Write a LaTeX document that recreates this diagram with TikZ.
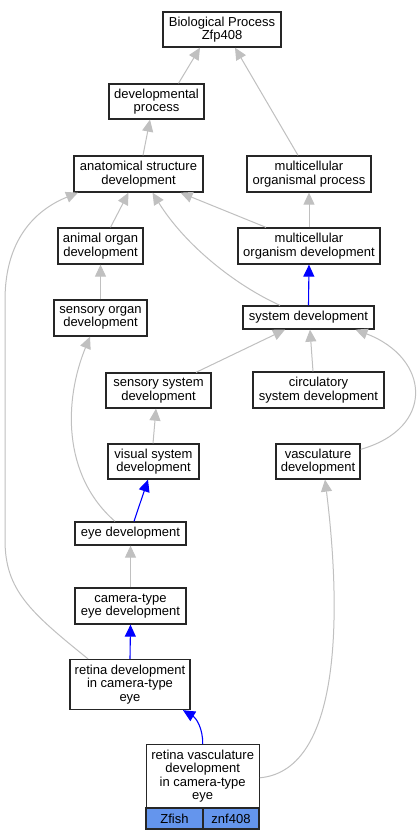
\documentclass[tikz,border=0pt]{standalone}
\usepackage{fontspec}
\setmainfont{Liberation Sans}
\usetikzlibrary{arrows.meta}
\definecolor{edgegray}{RGB}{192,192,192}
\definecolor{cellblue}{RGB}{100,149,237}
\tikzset{
  box/.style={draw=black!85, line width=1.3pt, fill=white, align=center, inner sep=0pt,
    font=\fontsize{13}{13.4}\selectfont},
  gedge/.style={draw=edgegray, line width=1pt, -{Triangle[length=12pt,width=11pt]}},
  bedge/.style={draw=blue, line width=1.1pt, -{Triangle[length=12pt,width=11pt]}},
}
\begin{document}
\begin{tikzpicture}[x=1pt,y=-1pt]
\useasboundingbox (0,0) rectangle (420,840);
\fill[white] (0,0) rectangle (420,840);
% nodes
\node[box, minimum width=118pt, minimum height=35pt] (bp) at (222,29.5) {Biological Process\\Zfp408};
\node[box, minimum width=95pt, minimum height=35pt] (dp) at (156.5,101.5) {developmental\\process};
\node[box, minimum width=129pt, minimum height=36pt] (asd) at (138.5,174) {anatomical structure\\development};
\node[box, minimum width=124pt, minimum height=36pt] (mop) at (309,174) {multicellular\\organismal process};
\node[box, minimum width=85pt, minimum height=36pt] (aod) at (100.5,246) {animal organ\\development};
\node[box, minimum width=142pt, minimum height=36pt] (mod) at (309,246) {multicellular\\organism development};
\node[box, minimum width=93pt, minimum height=36pt] (sod) at (100.5,318) {sensory organ\\development};
\node[box, minimum width=131pt, minimum height=23pt] (sd) at (308.5,317.5) {system development};
\node[box, minimum width=105pt, minimum height=35pt] (ssd) at (158.5,390.5) {sensory system\\development};
\node[box, minimum width=131pt, minimum height=36pt] (csd) at (318.5,390) {circulatory\\system development};
\node[box, minimum width=91pt, minimum height=35pt] (vsd) at (153.5,461.5) {visual system\\development};
\node[box, minimum width=84pt, minimum height=35pt] (vd) at (318,461.5) {vasculature\\development};
\node[box, minimum width=111pt, minimum height=23pt] (ed) at (130.5,533.5) {eye development};
\node[box, minimum width=111pt, minimum height=36pt] (ced) at (130.5,606) {camera-type\\eye development};
\node[box, minimum width=120pt, minimum height=50pt] (rd) at (130,684.5) {retina development\\in camera-type\\eye};
\node[box, minimum width=113pt, minimum height=63pt] (rvd) at (202.7,776.3) {retina vasculature\\development\\in camera-type\\eye};
\node[box, fill=cellblue, minimum width=57pt, minimum height=21pt] (zf) at (174.5,818.5) {Zfish};
\node[box, fill=cellblue, minimum width=56pt, minimum height=21pt] (zn) at (231,818.5) {znf408};
% edges
\draw[gedge] ([xshift=22pt]dp.north) -- ([xshift=-22pt]bp.south);
\draw[gedge] ([xshift=-11pt]mop.north) -- ([xshift=13pt]bp.south);
\draw[gedge] ([xshift=4.5pt]asd.north) -- ([xshift=-6.5pt]dp.south);
\draw[gedge] ([xshift=10pt]aod.north) -- ([xshift=-10pt]asd.south);
\draw[gedge] ([xshift=-43pt]mod.north) -- ([xshift=42pt]asd.south);
\draw[gedge] (mod.north) -- (mop.south);
\draw[gedge] (sod.north) -- (aod.south);
\draw[gedge] ([xshift=-28.5pt]sd.north) .. controls (235,285) and (185,245) .. ([xshift=14pt]asd.south);
\draw[bedge] (sd.north) -- (mod.south);
\draw[gedge] ([xshift=37.5pt]ssd.north) -- ([xshift=-23.5pt]sd.south);
\draw[gedge] ([xshift=-5.5pt]csd.north) -- ([xshift=1.5pt]sd.south);
\draw[gedge] ([yshift=-6pt]vd.north east) .. controls (436,428) and (430,358) .. ([xshift=47pt]sd.south);
\draw[gedge] ([xshift=-0.5pt]vsd.north) -- ([xshift=-2.5pt]ssd.south);
\draw[bedge] ([xshift=3.5pt]ed.north) -- ([xshift=-5.5pt]vsd.south);
\draw[gedge] ([xshift=-15.5pt]ed.north) .. controls (62,475) and (64,400) .. ([xshift=-10.5pt]sod.south);
\draw[gedge] (ced.north) -- (ed.south);
\draw[bedge] (rd.north) -- (ced.south);
\draw[gedge] ([xshift=-42pt]rd.north) .. controls (30,612) and (5,590) .. (5,540)
   -- (5,300) .. controls (5,235) and (40,208) .. ([xshift=-60.5pt]asd.south);
\draw[bedge] (rvd.north) .. controls (203,728) and (196,718) .. ([xshift=53pt]rd.south);
\draw[gedge] ([yshift=-1.5pt]rvd.east) .. controls (345,770) and (340,600) .. ([xshift=7pt]vd.south);
\end{tikzpicture}
\end{document}
